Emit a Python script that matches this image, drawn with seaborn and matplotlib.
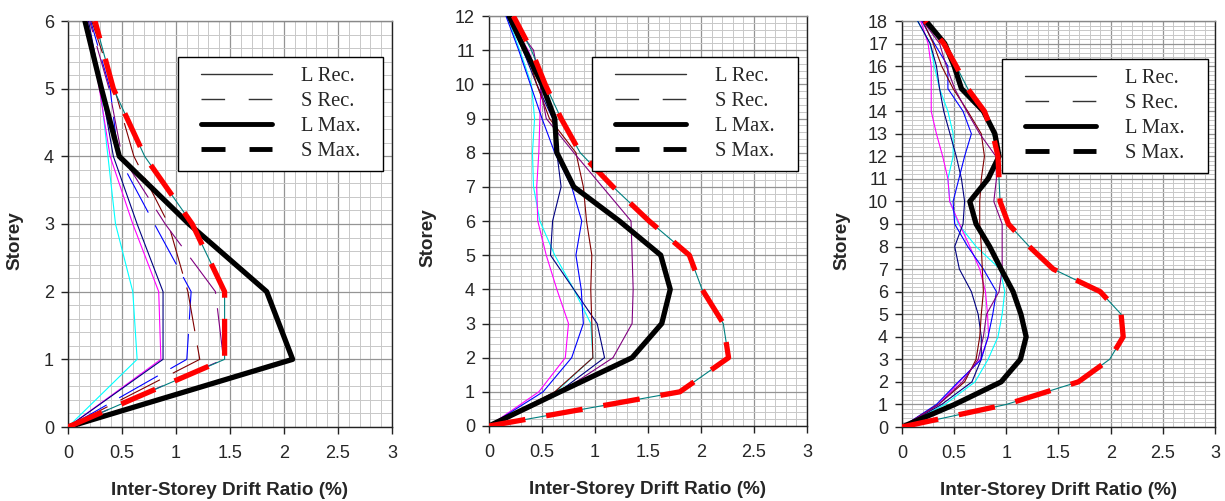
import matplotlib
matplotlib.use("Agg")
import matplotlib.pyplot as plt
import seaborn as sns
import pandas as pd
from matplotlib.lines import Line2D
from matplotlib.legend_handler import HandlerLine2D
from matplotlib.ticker import MultipleLocator

# ---------------------------------------------------------------
# Data: drift ratio (%) at each storey
# ---------------------------------------------------------------
storeys_6 = list(range(7))
storeys_12 = list(range(13))
storeys_18 = list(range(19))

# 6-storey frame
p6_cyan = [0, 0.64, 0.60, 0.44, 0.37, 0.30, 0.17]
p6_magenta = [0, 0.86, 0.84, 0.60, 0.39, 0.29, 0.18]
p6_navy = [0, 0.88, 0.88, 0.64, 0.42, 0.31, 0.19]
p6_blue = [0, 1.10, 1.14, 0.80, 0.465, 0.39, 0.21]
p6_darkred = [0, 1.22, 1.11, 0.93, 0.61, 0.43, 0.22]
p6_purple = [0, 1.44, 1.365, 0.90, 0.50, 0.38, 0.20]
p6_l_max = [0, 2.08, 1.84, 1.12, 0.475, 0.31, 0.157]
p6_s_max = [0, 1.45, 1.45, 1.15, 0.71, 0.42, 0.25]

# 12-storey frame
p12_cyan = [0, 0.63, 0.98, 0.96, 0.80, 0.62, 0.48, 0.42, 0.41, 0.43, 0.40, 0.29, 0.17]
p12_magenta = [0, 0.47, 0.72, 0.75, 0.64, 0.54, 0.46, 0.45, 0.47, 0.48, 0.49, 0.37, 0.17]
p12_navy = [0, 0.66, 1.09, 1.02, 0.80, 0.58, 0.60, 0.68, 0.64, 0.60, 0.45, 0.32, 0.17]
p12_blue = [0, 0.51, 0.78, 0.89, 0.87, 0.82, 0.875, 0.78, 0.62, 0.50, 0.39, 0.28, 0.16]
p12_darkred = [0, 0.62, 0.98, 0.97, 0.96, 0.97, 0.92, 0.89, 0.82, 0.57, 0.45, 0.35, 0.18]
p12_purple = [0, 0.68, 1.17, 1.35, 1.36, 1.35, 1.34, 1.07, 0.80, 0.54, 0.48, 0.42, 0.18]
p12_l_max = [0, 0.67, 1.35, 1.63, 1.71, 1.62, 1.23, 0.80, 0.64, 0.62, 0.50, 0.34, 0.19]
p12_s_max = [0, 1.80, 2.26, 2.21, 2.01, 1.89, 1.51, 1.17, 0.86, 0.68, 0.53, 0.40, 0.23]

# 18-storey frame
p18_cyan = [0, 0.41, 0.70, 0.825, 0.92, 0.96, 0.985, 0.94, 0.71, 0.54, 0.46, 0.44,
            0.49, 0.49, 0.44, 0.36, 0.31, 0.27, 0.15]
p18_magenta = [0, 0.35, 0.55, 0.75, 0.83, 0.82, 0.80, 0.745, 0.65, 0.55, 0.457, 0.44,
               0.39, 0.33, 0.28, 0.28, 0.28, 0.25, 0.18]
p18_navy = [0, 0.38, 0.67, 0.76, 0.76, 0.73, 0.665, 0.55, 0.505, 0.585, 0.60, 0.57,
            0.52, 0.46, 0.40, 0.36, 0.33, 0.27, 0.15]
p18_blue = [0, 0.33, 0.54, 0.76, 0.825, 0.87, 0.905, 0.78, 0.63, 0.505, 0.49, 0.545,
            0.60, 0.665, 0.585, 0.44, 0.44, 0.31, 0.19]
p18_darkred = [0, 0.35, 0.60, 0.71, 0.745, 0.76, 0.78, 0.77, 0.76, 0.745, 0.745, 0.76,
               0.79, 0.76, 0.63, 0.49, 0.38, 0.30, 0.20]
p18_purple = [0, 0.35, 0.58, 0.73, 0.78, 0.81, 0.93, 0.96, 0.96, 0.96, 0.88, 0.905,
              0.90, 0.745, 0.62, 0.505, 0.425, 0.36, 0.20]
p18_l_max = [0, 0.505, 0.95, 1.135, 1.19, 1.14, 1.065, 0.95, 0.84, 0.71, 0.65, 0.825,
             0.93, 0.89, 0.78, 0.57, 0.50, 0.41, 0.23]
p18_s_max = [0, 1.0, 1.69, 1.99, 2.12, 2.10, 1.90, 1.45, 1.22, 1.02, 0.94, 0.93,
             0.92, 0.87, 0.79, 0.63, 0.52, 0.40, 0.22]

legend_labels = ["L Rec.", "S Rec.", "L Max.", "S Max."]
x_ticks = [0, 0.5, 1, 1.5, 2, 2.5, 3]

# Excel-like palette
COLORS = {
    "cyan": "#00FFFF", "magenta": "#FF00FF", "navy": "#000080",
    "blue": "#0000FF", "darkred": "#800000", "purple": "#800080",
    "teal": "#008080", "l_max": "black", "s_max": "#FF0000",
}

W, H = 1225, 501


def build_frame(storeys, **series):
    """Long-form table: one row per (series, storey)."""
    rows = []
    for name, vals in series.items():
        for s, v in zip(storeys, vals):
            rows.append({"series": name, "storey": s, "drift": v})
    return pd.DataFrame(rows)


class InsetLine(HandlerLine2D):
    """Legend line that leaves some blank room before the stroke."""
    def create_artists(self, legend, orig_handle, xdescent, ydescent,
                       width, height, fontsize, trans):
        inset = 0.153 * width
        return super().create_artists(legend, orig_handle, xdescent - inset,
                                      ydescent, width - inset, height,
                                      fontsize, trans)


def draw_panel(ax, df, n_storeys, dashed_recs, legend_box):
    thin_dash = (0, (40, 13))
    for name in ["cyan", "magenta", "navy", "blue", "darkred", "purple"]:
        sub = df[df["series"] == name]
        ls = thin_dash if name in dashed_recs else "-"
        sns.lineplot(data=sub, x="drift", y="storey", ax=ax, sort=False,
                     estimator=None, color=COLORS[name], lw=0.8,
                     linestyle=ls, zorder=3)
    smax = df[df["series"] == "s_max"]
    # thin teal record under the S max envelope
    sns.lineplot(data=smax, x="drift", y="storey", ax=ax, sort=False,
                 estimator=None, color=COLORS["teal"], lw=0.8, zorder=4)
    sns.lineplot(data=df[df["series"] == "l_max"], x="drift", y="storey",
                 ax=ax, sort=False, estimator=None, color="black", lw=3.8,
                 zorder=5)
    sns.lineplot(data=smax, x="drift", y="storey", ax=ax, sort=False,
                 estimator=None, color=COLORS["s_max"], lw=3.8,
                 linestyle=(0, (7, 4)), zorder=6)

    ax.set_xlim(0, 3)
    ax.set_ylim(0, n_storeys)
    ax.set_xticks(x_ticks)
    ax.set_xticklabels([f"{t:g}" for t in x_ticks])
    ax.yaxis.set_major_locator(MultipleLocator(1))
    ax.xaxis.set_minor_locator(MultipleLocator(0.1))
    ax.yaxis.set_minor_locator(MultipleLocator(0.2))
    ax.set_axisbelow(True)
    ax.grid(which="minor", color="#c8c8c8", lw=0.7)
    ax.grid(which="major", color="#949494", lw=0.9)
    ax.tick_params(which="major", direction="out", length=5, width=1,
                   color="#222222", labelsize=13, bottom=True, left=True)
    ax.tick_params(axis="x", pad=8)
    ax.tick_params(axis="y", pad=5)
    ax.tick_params(which="minor", length=0)
    for sp in ax.spines.values():
        sp.set_color("#222222")
        sp.set_linewidth(1.0)
    ax.spines["top"].set_color("#888888")

    ax.set_xlabel("Inter-Storey Drift Ratio (%)", fontsize=13.6, fontweight="bold")
    ax.set_ylabel("Storey", fontsize=13.6, fontweight="bold")

    handles = [
        Line2D([], [], color="#333333", lw=1.0),
        Line2D([], [], color="#333333", lw=1.0, linestyle=(0, (17, 17))),
        Line2D([], [], color="black", lw=3.5),
        Line2D([], [], color="black", lw=3.5, linestyle=(0, (4.94, 4.94))),
    ]
    x0, y0, x1, _ = legend_box
    leg = ax.legend(handles, legend_labels, loc="upper left", mode="expand",
                    bbox_to_anchor=(x0 / W, 0, (x1 - x0) / W, 1 - y0 / H),
                    bbox_transform=ax.figure.transFigure, borderaxespad=0,
                    prop={"family": "Liberation Serif", "size": 14.8},
                    handlelength=4.09, handletextpad=1.4, borderpad=0.48,
                    labelspacing=0.27, fancybox=False, framealpha=1,
                    edgecolor="black",
                    handler_map={Line2D: InsetLine()})
    leg.get_frame().set_linewidth(1.0)
    leg.set_zorder(10)


sns.set_theme(style="white")
plt.rcParams["font.family"] = ["Liberation Sans", "DejaVu Sans"]

fig = plt.figure(figsize=(W / 100, H / 100), dpi=100)


def add_axes(left, right, top, bottom):
    return fig.add_axes([left / W, 1 - bottom / H, (right - left) / W,
                         (bottom - top) / H])


ax1 = add_axes(68, 392, 21, 427)
ax2 = add_axes(489, 807, 16, 426)
ax3 = add_axes(902, 1215, 21, 427)

df6 = build_frame(storeys_6, cyan=p6_cyan, magenta=p6_magenta, navy=p6_navy,
                  blue=p6_blue, darkred=p6_darkred, purple=p6_purple,
                  l_max=p6_l_max, s_max=p6_s_max)
df12 = build_frame(storeys_12, cyan=p12_cyan, magenta=p12_magenta, navy=p12_navy,
                   blue=p12_blue, darkred=p12_darkred, purple=p12_purple,
                   l_max=p12_l_max, s_max=p12_s_max)
df18 = build_frame(storeys_18, cyan=p18_cyan, magenta=p18_magenta, navy=p18_navy,
                   blue=p18_blue, darkred=p18_darkred, purple=p18_purple,
                   l_max=p18_l_max, s_max=p18_s_max)

draw_panel(ax1, df6, 6, {"blue", "darkred", "purple"}, (178, 57, 383, 176))
draw_panel(ax2, df12, 12, set(), (592, 57, 798, 177))
draw_panel(ax3, df18, 18, set(), (1002, 59, 1208, 178))

# axis label placement (axes fraction)
ax1.yaxis.set_label_coords(-0.136, 0.46)
ax2.yaxis.set_label_coords(-0.165, 0.46)
ax3.yaxis.set_label_coords(-0.165, 0.46)
for ax, h in [(ax1, 406), (ax2, 410), (ax3, 406)]:
    ax.xaxis.set_label_coords(0.5, -55 / h)

fig.savefig("out.png", dpi=100)
